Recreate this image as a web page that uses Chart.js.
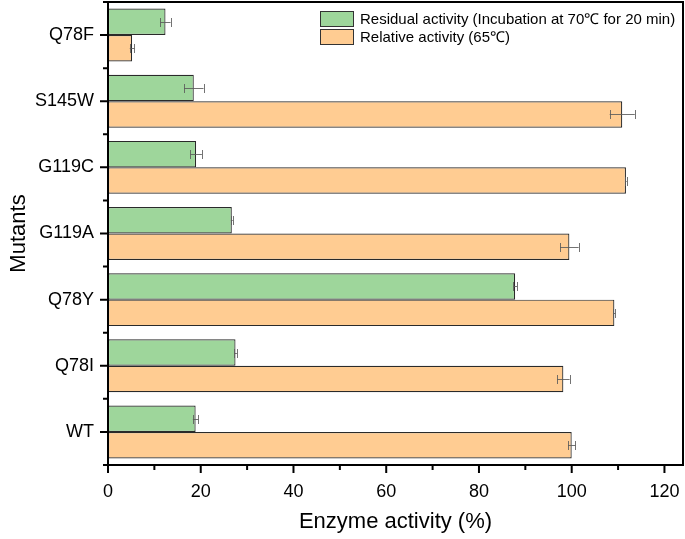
<!DOCTYPE html>
<html>
<head>
<meta charset="utf-8">
<script src="https://cdn.jsdelivr.net/npm/chart.js@4.4.1/dist/chart.umd.min.js"></script>
<style>
html,body{margin:0;padding:0;background:#fff;}
#wrap{width:685px;height:539px;}
</style>
</head>
<body>
<div id="wrap"><canvas id="c" width="685" height="539"></canvas></div>
<script>
const categories = ['Q78F', 'S145W', 'G119C', 'G119A', 'Q78Y', 'Q78I', 'WT'];
const residual = [12.4, 18.5, 19.0, 26.7, 87.8, 27.5, 18.9];
const residualErr = [1.1, 2.1, 1.25, 0.2, 0.4, 0.3, 0.6];
const relative = [5.2, 110.9, 111.7, 99.5, 109.2, 98.2, 100.0];
const relativeErr = [0.5, 2.7, 0.15, 2.0, 0.2, 1.35, 0.8];
const xTicks = [0, 20, 40, 60, 80, 100, 120];
const seriesLabels = ['Residual activity (Incubation at 70\u2103 for 20 min)', 'Relative activity (65\u2103)'];

const FONT = "'Liberation Sans', Arial, sans-serif";
const GREEN = 'rgb(158,214,155)';
const ORANGE = 'rgb(255,204,146)';

const errs = [residualErr, relativeErr];

const decor = {
  id: 'decor',
  afterDatasetsDraw(chart) {
    const ctx = chart.ctx;
    const xs = chart.scales.x;
    ctx.save();
    ctx.strokeStyle = 'rgba(90,90,90,0.85)';
    ctx.lineWidth = 1;
    chart.data.datasets.forEach((ds, di) => {
      const meta = chart.getDatasetMeta(di);
      meta.data.forEach((el, i) => {
        const v = ds.data[i], e = errs[di][i];
        const x1 = xs.getPixelForValue(v - e), x2 = xs.getPixelForValue(v + e);
        const y = Math.round(el.y);
        ctx.beginPath();
        ctx.moveTo(x1, y + 0.5); ctx.lineTo(x2, y + 0.5);
        ctx.moveTo(Math.round(x1) + 0.5, y - 4); ctx.lineTo(Math.round(x1) + 0.5, y + 5);
        ctx.moveTo(Math.round(x2) + 0.5, y - 4); ctx.lineTo(Math.round(x2) + 0.5, y + 5);
        ctx.stroke();
      });
    });
    ctx.restore();
  },
  afterDraw(chart) {
    const ctx = chart.ctx;
    const xs = chart.scales.x, ys = chart.scales.y;
    const a = chart.chartArea;
    ctx.save();
    ctx.beginPath();
    ctx.rect(a.left, a.top, a.right - a.left, a.bottom - a.top);
    ctx.clip();
    const lx = 320, ly = 11;
    const cols = [GREEN, ORANGE];
    ctx.font = '15px ' + FONT;
    ctx.textBaseline = 'middle';
    ctx.textAlign = 'left';
    seriesLabels.forEach((t, i) => {
      const y = ly + i * 18;
      ctx.fillStyle = cols[i];
      ctx.fillRect(lx, y, 34, 16);
      ctx.strokeStyle = '#333';
      ctx.lineWidth = 1;
      ctx.strokeRect(lx + 0.5, y + 0.5, 33, 15);
      ctx.fillStyle = '#000';
      ctx.fillText(t, lx + 40, y + 8.5);
    });
    ctx.restore();

    ctx.save();
    ctx.strokeStyle = '#000';
    ctx.lineWidth = 2;
    ctx.strokeRect(a.left, a.top, a.right - a.left, a.bottom - a.top);
    ctx.beginPath();
    const n = categories.length;
    const step = (a.bottom - a.top) / n;
    for (let i = 0; i < n; i++) {
      const y = ys.getPixelForValue(i);
      ctx.moveTo(a.left, y); ctx.lineTo(a.left - 8, y);
    }
    for (let i = 0; i <= n; i++) {
      const y = a.top + i * step;
      ctx.moveTo(a.left, y); ctx.lineTo(a.left - 5, y);
    }
    xTicks.forEach(v => {
      const x = xs.getPixelForValue(v);
      ctx.moveTo(x, a.bottom); ctx.lineTo(x, a.bottom + 8);
      if (v + 10 <= xs.max) {
        const xm = xs.getPixelForValue(v + 10);
        ctx.moveTo(xm, a.bottom); ctx.lineTo(xm, a.bottom + 5);
      }
    });
    ctx.stroke();
    ctx.restore();
  }
};

new Chart(document.getElementById('c'), {
  type: 'bar',
  data: {
    labels: categories,
    datasets: [
      { label: seriesLabels[0], data: residual, backgroundColor: GREEN, borderColor: '#2a2a2a', borderWidth: 1.2, borderSkipped: false },
      { label: seriesLabels[1], data: relative, backgroundColor: ORANGE, borderColor: '#2a2a2a', borderWidth: 1.2, borderSkipped: false }
    ]
  },
  options: {
    indexAxis: 'y',
    responsive: false,
    animation: false,
    devicePixelRatio: 1,
    layout: { padding: { top: 2, right: 2, left: 0, bottom: 0 } },
    datasets: { bar: { categoryPercentage: 0.8, barPercentage: 1.0 } },
    plugins: { legend: { display: false }, tooltip: { enabled: false } },
    scales: {
      x: {
        type: 'linear', min: 0, max: 124,
        afterBuildTicks: (s) => { s.ticks = xTicks.map(v => ({ value: v })); },
        afterFit: (s) => { s.height = 74; s.paddingLeft = 0; s.paddingRight = 0; },
        grid: { display: false },
        border: { display: false },
        ticks: { font: { size: 18, family: FONT }, color: '#000', padding: 8, maxRotation: 0 },
        title: { display: true, text: 'Enzyme activity (%)', font: { size: 22, family: FONT }, color: '#000', padding: 4 }
      },
      y: {
        type: 'category',
        afterFit: (s) => { s.width = 108; s.paddingTop = 0; s.paddingBottom = 0; },
        grid: { display: false },
        border: { display: false },
        ticks: { font: { size: 18, family: FONT }, color: '#000', padding: 6 },
        title: { display: true, text: 'Mutants', font: { size: 22, family: FONT }, color: '#000', padding: 6 }
      }
    }
  },
  plugins: [decor]
});
</script>
</body>
</html>
